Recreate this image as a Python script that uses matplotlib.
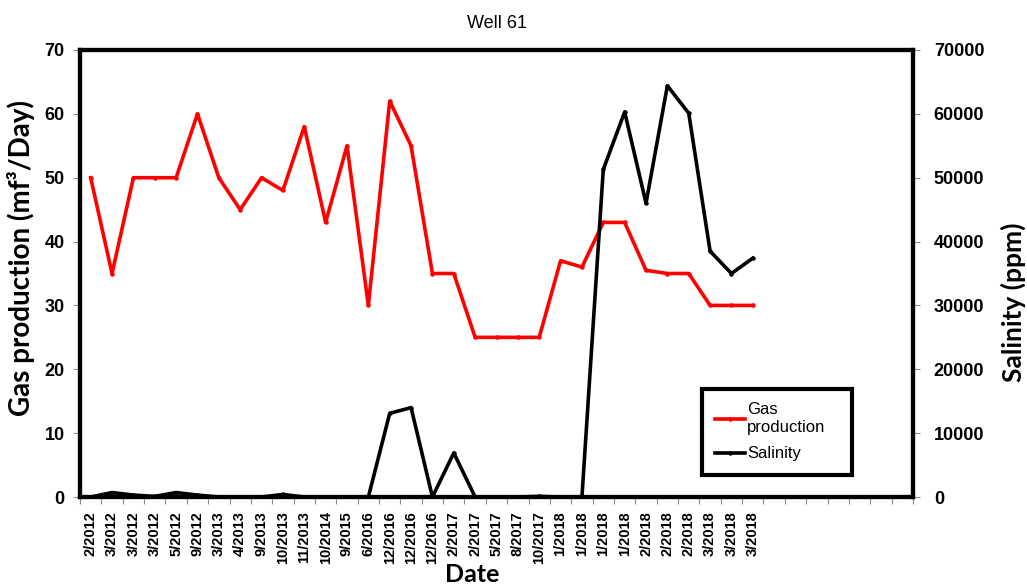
import numpy as np
import matplotlib
matplotlib.use("Agg")
import matplotlib.pyplot as plt

# sample dates (one per measurement); 7 empty slots follow on the axis
dates = ["2/2012", "3/2012", "3/2012", "3/2012", "5/2012", "9/2012", "3/2013",
         "4/2013", "9/2013", "10/2013", "11/2013", "10/2014", "9/2015", "6/2016",
         "12/2016", "12/2016", "12/2016", "2/2017", "2/2017", "5/2017", "8/2017",
         "10/2017", "1/2018", "1/2018", "1/2018", "1/2018", "2/2018", "2/2018",
         "2/2018", "3/2018", "3/2018", "3/2018"]
n_slots = 39

gas = [50, 35, 50, 50, 50, 60, 50, 45, 50, 48, 58, 43, 55, 30, 62, 55, 35, 35,
       25, 25, 25, 25, 37, 36, 43, 43, 35.5, 35, 35, 30, 30, 30]
salinity = [0, 700, 300, 100, 700, 300, 0, 0, 0, 400, 0, 0, 0, 0, 13100, 14000,
            0, 6900, 0, 0, 0, 100, 0, 0, 51300, 60300, 46000, 64400, 60100,
            38500, 35000, 37400]

W, H = 1027, 586
fig = plt.figure(figsize=(W / 100, H / 100), dpi=100)
ax = fig.add_axes([80 / W, 1 - 497 / H, (913 - 80) / W, (497 - 50) / H])
ax2 = ax.twinx()

x = np.arange(len(dates))
l1, = ax.plot(x, gas, color="#ff0000", lw=2.6, marker="o", ms=2.2,
              label="Gas\nproduction")
l2, = ax2.plot(x, salinity, color="black", lw=2.6, marker="o", ms=2.2,
               label="Salinity")

ax.set_xlim(-0.5, n_slots - 0.5)
ax.set_ylim(0, 70)
ax2.set_ylim(0, 70000)
ax.set_yticks(np.arange(0, 71, 10))
ax2.set_yticks(np.arange(0, 70001, 10000))

# slot boundaries carry the tick marks, slot centres carry the date labels
ax.set_xticks(np.arange(-0.5, n_slots, 1))
ax.set_xticklabels([])
ax.set_xticks(x, minor=True)
ax.set_xticklabels(dates, minor=True, rotation=90, fontsize=10.5,
                   fontweight="bold", family="Liberation Sans")
ax.tick_params(axis="x", which="major", direction="out", length=5,
               width=0.8, color="#8c8c8c")
ax.tick_params(axis="x", which="minor", length=0, pad=10)

for a, side in ((ax, "left"), (ax2, "right")):
    a.tick_params(axis="y", direction="out", length=5, width=0.8,
                  color="#8c8c8c", pad=6 if side == "left" else 10)
    for lab in a.get_yticklabels():
        lab.set_fontsize(13)
        lab.set_fontweight("bold")
        lab.set_family("Liberation Sans")

for a in (ax, ax2):
    for s in a.spines.values():
        s.set_linewidth(3)
        s.set_color("black")

fig.text(497 / W, 1 - 24 / H, "Well 61", ha="center", va="center",
         fontsize=13, family="Liberation Sans")
fig.text(21 / W, 1 - 258 / H, "Gas production (mf³/Day)", rotation=90,
         ha="center", va="center", fontsize=20, fontweight="bold", family="Lato")
fig.text(1013 / W, 1 - 302 / H, "Salinity (ppm)", rotation=90,
         ha="center", va="center", fontsize=19, fontweight="bold", family="Lato")
fig.text(472 / W, 1 - 574 / H, "Date", ha="center", va="center",
         fontsize=18, fontweight="bold", family="Lato")

leg = ax2.legend(handles=[l1, l2], loc="upper left",
                 bbox_to_anchor=((702 - 80) / 833, (497 - 389) / 447,
                                 150 / 833, 0), mode="expand",
                 fancybox=False, framealpha=1, edgecolor="black",
                 prop={"family": "Liberation Sans", "size": 12},
                 handlelength=1.8, handletextpad=0.1, borderpad=0.8,
                 labelspacing=0.7, borderaxespad=0)
leg.get_frame().set_linewidth(3)

fig.savefig("out.png", dpi=100)
